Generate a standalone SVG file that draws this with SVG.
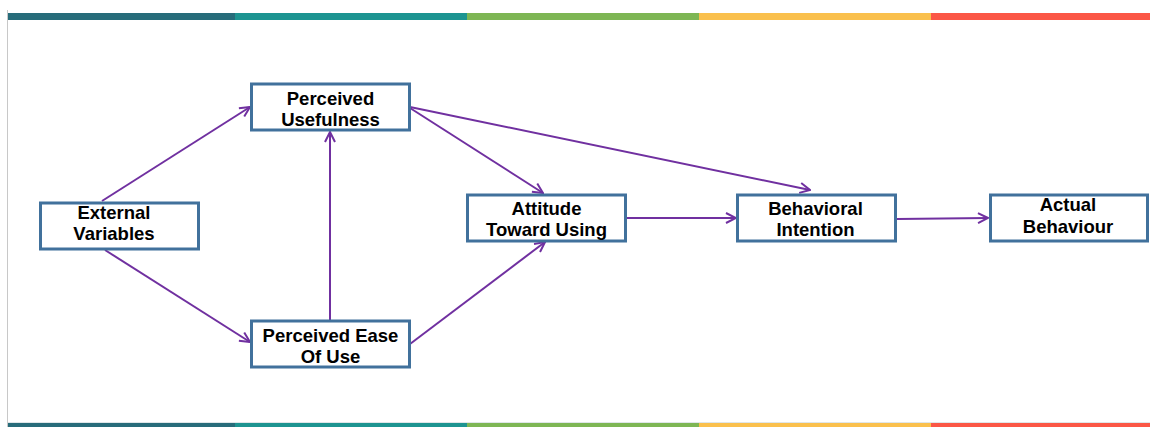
<svg xmlns="http://www.w3.org/2000/svg" width="1150" height="427" viewBox="0 0 1150 427">
<style>
.box{fill:#fff;stroke:#41719C;stroke-width:3}
.lbl{font-family:"Liberation Sans",Arial,sans-serif;font-weight:bold;font-size:18.5px;fill:#000;text-anchor:middle}
.con{fill:none;stroke:#7030A0;stroke-width:2;marker-end:url(#ah)}
</style>
<defs>
<marker id="ah" viewBox="0 0 12 12" refX="11" refY="6" markerWidth="12" markerHeight="12" markerUnits="userSpaceOnUse" orient="auto">
<path d="M1,1 L11,6 L1,11" fill="none" stroke="#7030A0" stroke-width="2"/>
</marker>
</defs>
<rect x="0" y="0" width="1150" height="427" fill="#fff"/>
<line x1="7.5" y1="10" x2="7.5" y2="427" stroke="#c8c8c8" stroke-width="1"/>
<g id="topbar">
<rect x="8" y="13" width="227" height="7" fill="#276C7A"/>
<rect x="235" y="13" width="232" height="7" fill="#1D9491"/>
<rect x="467" y="13" width="232" height="7" fill="#7EB654"/>
<rect x="699" y="13" width="232" height="7" fill="#FAC04D"/>
<rect x="931" y="13" width="219" height="7" fill="#FB5746"/>
</g>
<g id="bottombar">
<line x1="8" y1="422.5" x2="1150" y2="422.5" stroke="#dfe6e8" stroke-width="1"/>
<rect x="8" y="423" width="227" height="4" fill="#276C7A"/>
<rect x="235" y="423" width="232" height="4" fill="#1D9491"/>
<rect x="467" y="423" width="232" height="4" fill="#7EB654"/>
<rect x="699" y="423" width="232" height="4" fill="#FAC04D"/>
<rect x="931" y="423" width="219" height="4" fill="#FB5746"/>
</g>
<g id="connectors">
<line class="con" x1="102" y1="201" x2="250" y2="107"/>
<line class="con" x1="105" y1="250" x2="250" y2="342"/>
<line class="con" x1="330" y1="320" x2="330" y2="132"/>
<line class="con" x1="410" y1="108" x2="543" y2="193"/>
<line class="con" x1="410" y1="107" x2="810" y2="190"/>
<line class="con" x1="410" y1="344" x2="545" y2="242"/>
<line class="con" x1="627" y1="218" x2="736" y2="218"/>
<line class="con" x1="897" y1="219" x2="988" y2="218"/>
</g>
<g id="n-external">
<rect class="box" x="40.5" y="203" width="158" height="46"/>
<text class="lbl" x="114" y="219">External</text>
<text class="lbl" x="114" y="240">Variables</text>
</g>
<g id="n-pu">
<rect class="box" x="251.5" y="84" width="158" height="46"/>
<text class="lbl" x="330.5" y="105">Perceived</text>
<text class="lbl" x="330.5" y="126">Usefulness</text>
</g>
<g id="n-peou">
<rect class="box" x="251.5" y="321" width="158" height="46"/>
<text class="lbl" x="330.5" y="342">Perceived Ease</text>
<text class="lbl" x="330.5" y="363">Of Use</text>
</g>
<g id="n-attitude">
<rect class="box" x="467.5" y="195" width="158" height="46"/>
<text class="lbl" x="546.5" y="215">Attitude</text>
<text class="lbl" x="546.5" y="236">Toward Using</text>
</g>
<g id="n-intention">
<rect class="box" x="737.5" y="195" width="158" height="46"/>
<text class="lbl" x="815.5" y="215">Behavioral</text>
<text class="lbl" x="815.5" y="236">Intention</text>
</g>
<g id="n-actual">
<rect class="box" x="990.5" y="195" width="157" height="46"/>
<text class="lbl" x="1068" y="211">Actual</text>
<text class="lbl" x="1068" y="233">Behaviour</text>
</g>
</svg>
